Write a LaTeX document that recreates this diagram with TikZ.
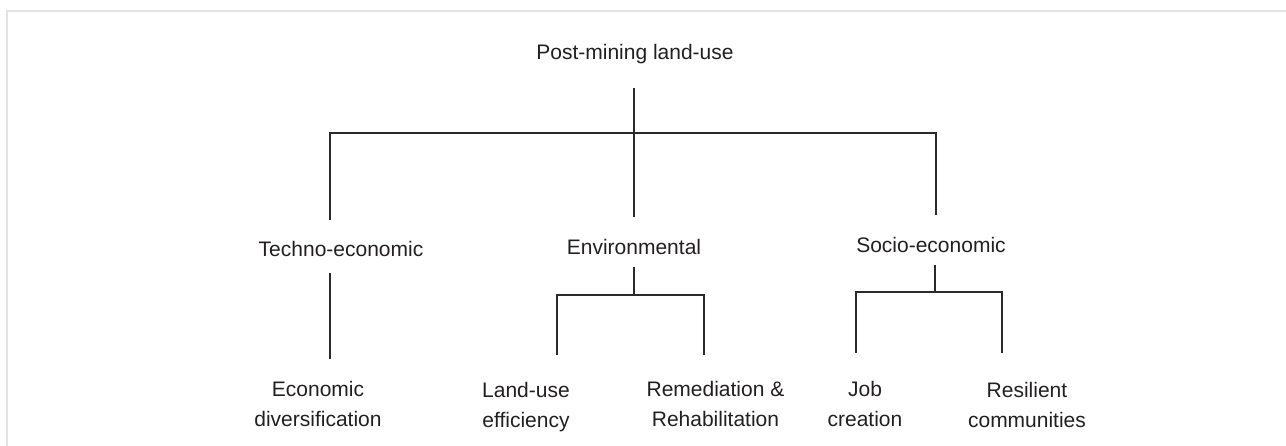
\documentclass[tikz,border=0pt]{standalone}
\usepackage{fontspec}
\setmainfont{Liberation Sans}
\definecolor{ink}{HTML}{231F20}
\definecolor{wire}{HTML}{2A2A2A}
\definecolor{edge}{HTML}{E2E2E2}
\begin{document}
\begin{tikzpicture}[x=1pt,y=-1pt,
  term/.style={anchor=base, inner sep=0pt, text=ink, align=center,
               font=\fontsize{21}{30}\selectfont},
  link/.style={draw=wire, line width=1.8pt},
  rim/.style={draw=edge, line width=2pt}]
\useasboundingbox (0,0) rectangle (1286,446);

% light frame along the top and left
\draw[rim] (7,446) -- (7,11) -- (1286,11);

% labels (two-line labels sit on the baseline of their last line)
\node[term] (root) at (635,60) {Post-mining land-use};
\begin{scope}
  \clip (200,200) rectangle (480,257.5);
  \node[term] (tech) at (341,257) {Techno-economic};
\end{scope}
\node[term] (env) at (634,255) {Environmental};
\begin{scope}
  \clip (800,200) rectangle (1080,253.5);
  \node[term] (soc) at (931,253) {Socio-economic};
\end{scope}
\node[term] (econ) at (318,427) {Economic\\diversification};
\node[term] (land) at (526,428) {Land-use\\efficiency};
\node[term] (reme) at (715.5,427) {Remediation \&\\Rehabilitation};
\node[term] (job)  at (865,427) {Job\\creation};
\node[term] (resi) at (1027,428) {Resilient\\communities};

% junction points of the tree
\coordinate (rootTop) at (634,88);
\coordinate (techJ)   at (330,133);
\coordinate (socJ)    at (936,133);
\coordinate (techIn)  at (330,220);
\coordinate (envIn)   at (634,217);
\coordinate (socIn)   at (936,215);

\coordinate (techOut) at (330,273);
\coordinate (econIn)  at (330,359);

\coordinate (envOut)  at (634,267);
\coordinate (envJ)    at (634,295);
\coordinate (landJ)   at (557,295);
\coordinate (remeJ)   at (704,295);
\coordinate (landIn)  at (557,355);
\coordinate (remeIn)  at (704,355);

\coordinate (socOut)  at (935,265);
\coordinate (socJ2)   at (935,292);
\coordinate (jobJ)    at (856,292);
\coordinate (resiJ)   at (1002,292);
\coordinate (jobIn)   at (856,353);
\coordinate (resiIn)  at (1002,353);

% first level
\draw[link] (rootTop) -- (envIn);
\draw[link] (techIn) -- (techJ) -- (socJ) -- (socIn);

% techno-economic branch
\draw[link] (techOut) -- (econIn);

% environmental branch
\draw[link] (envOut) -- (envJ);
\draw[link] (landIn) -- (landJ) -- (remeJ) -- (remeIn);

% socio-economic branch
\draw[link] (socOut) -- (socJ2);
\draw[link] (jobIn) -- (jobJ) -- (resiJ) -- (resiIn);
\end{tikzpicture}
\end{document}
